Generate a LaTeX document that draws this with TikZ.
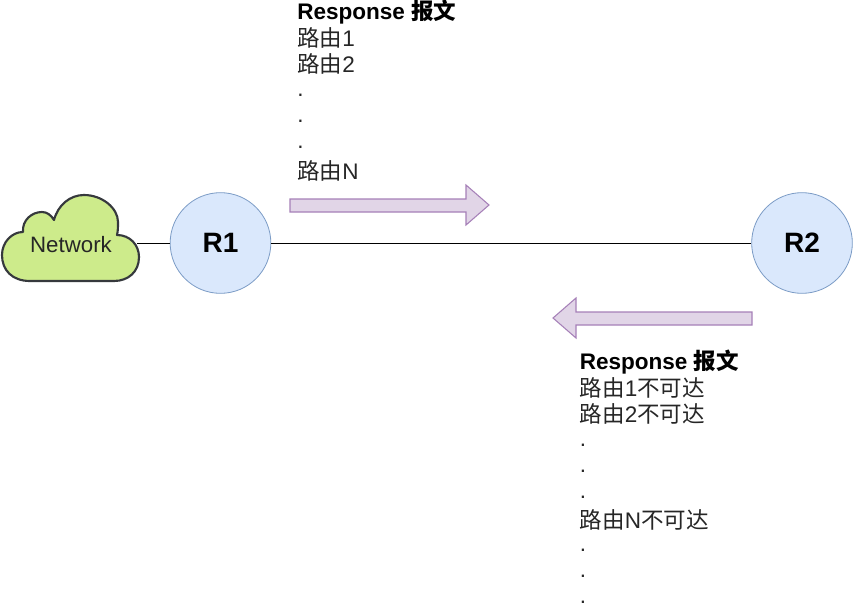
\documentclass[tikz,border=0pt]{standalone}
\usepackage{fontspec}
\setmainfont{Liberation Sans}
\newfontfamily\cjk{Noto Sans CJK SC}
\usetikzlibrary{shapes.arrows}
\definecolor{routerline}{HTML}{7C9CC6}
\definecolor{routerfill}{HTML}{DAE8FC}
\definecolor{arrowline}{HTML}{A680B8}
\definecolor{arrowfill}{HTML}{E1D5E7}
\definecolor{cloudfill}{HTML}{CDEB8B}
\definecolor{cloudline}{HTML}{36393D}
\definecolor{textgray}{HTML}{262626}
\newcommand{\raiseddot}{\raisebox{2pt}{.}}
\tikzset{
 px/.style={x=0.75pt,y=-0.75pt},
 router/.style={circle,draw=routerline,fill=routerfill,line width=0.6pt,minimum size=75.5pt,inner sep=0pt,font=\fontsize{21}{21}\selectfont\bfseries},
 link/.style={draw=black,line width=0.65pt},
 bigarrow/.style={draw=arrowline,fill=arrowfill,line width=0.8pt},
 msg/.style={anchor=north west,align=left,inner sep=0pt,text=textgray,font=\fontsize{16.9}{19.6}\selectfont},
}
\begin{document}
\begin{tikzpicture}[px]
\useasboundingbox[fill=white] (0,0) rectangle (853,614);
\coordinate (cloudR) at (137,243);
\node[router] (R1) at (220.5,243) {R1};
\node[router] (R2) at (802,243) {R2};
\draw[link] (cloudR) -- (R1);
\draw[link] (R1) -- (R2);
\draw[draw=cloudline,fill=cloudfill,line width=1.6pt,line join=round]
 (30,281) .. controls (12,281) and (2,270) .. (2,255)
 .. controls (2,242) and (12,232) .. (23,232)
 .. controls (22,220) and (32,212) .. (42,212)
 .. controls (47,212) and (51,215) .. (54,220)
 .. controls (58,205) and (70,195) .. (84,195)
 .. controls (102,195) and (118,208) .. (118,222)
 .. controls (118,227) and (118,231) .. (117,235)
 .. controls (130,235) and (139,245) .. (139,257)
 .. controls (139,272) and (128,281) .. (114,281) -- cycle;
\node[font=\fontsize{16.7}{18}\selectfont,inner sep=0pt,text=textgray] (net) at (71,245) {Network};
\draw[bigarrow] (290,199) -- (466,199) -- (466,185) -- (489,205) -- (466,225) -- (466,212) -- (290,212) -- cycle;
\draw[bigarrow] (752,312) -- (576,312) -- (576,298) -- (553,318) -- (576,338) -- (576,325) -- (752,325) -- cycle;
\node[msg] (m1) at (297,0) {\textbf{\textcolor{black}{Response {\cjk 报文}}}\\[0.6pt]{\cjk 路由}1\\{\cjk 路由}2\\\raiseddot\\\raiseddot\\\raiseddot\\[1.2pt]{\cjk 路由}N};
\node[msg] (m2) at (579.5,350) {\textbf{\textcolor{black}{Response {\cjk 报文}}}\\[0.6pt]{\cjk 路由}1{\cjk 不可达}\\{\cjk 路由}2{\cjk 不可达}\\\raiseddot\\\raiseddot\\\raiseddot\\[0.6pt]{\cjk 路由}N{\cjk 不可达}\\\raiseddot\\\raiseddot\\\raiseddot};
\end{tikzpicture}
\end{document}
